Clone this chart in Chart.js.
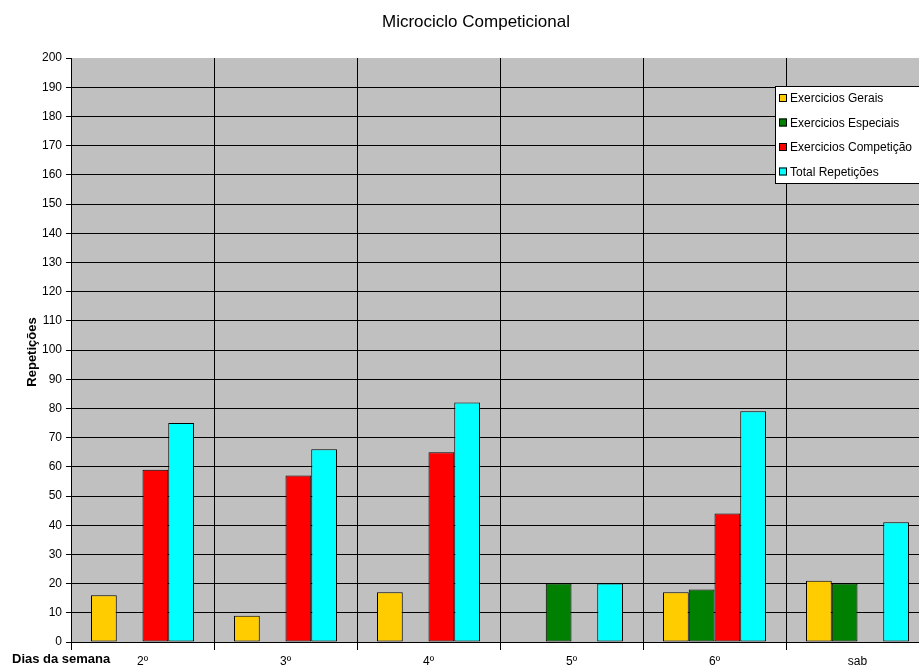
<!DOCTYPE html>
<html>
<head>
<meta charset="utf-8">
<script src="https://cdn.jsdelivr.net/npm/chart.js@4/dist/chart.umd.min.js"></script>
<style>
  html, body { margin: 0; padding: 0; background: #fff; overflow: hidden; }
  #wrap { width: 940px; height: 672px; }
</style>
</head>
<body>
<div id="wrap"><canvas id="myChart"></canvas></div>
<script>
const dias = ['2º', '3º', '4º', '5º', '6º', 'sab'];
const gerais = [16, 9, 17, 0, 17, 21];
const especiais = [0, 0, 0, 20, 18, 20];
const competicao = [59, 57, 65, 0, 44, 0];
const totalRep = [75, 66, 82, 20, 79, 41];
const yTicks = [0, 10, 20, 30, 40, 50, 60, 70, 80, 90, 100, 110, 120, 130, 140, 150, 160, 170, 180, 190, 200];

const font = 'Liberation Sans, Arial, sans-serif';

// titles, axis captions and the boxed legend
const extras = {
  id: 'extras',
  afterDraw(chart) {
    const c = chart.ctx;
    c.save();
    c.fillStyle = '#000';
    c.textAlign = 'center';
    c.textBaseline = 'middle';
    c.font = '17px ' + font;
    c.fillText('Microciclo Competicional', 476, 22);

    c.font = 'bold 13px ' + font;
    c.textAlign = 'left';
    c.fillText('Dias da semana', 12, 659);

    c.save();
    c.translate(32, 352);
    c.rotate(-Math.PI / 2);
    c.textAlign = 'center';
    c.fillText('Repetições', 0, 0);
    c.restore();

    // legend
    const lx = 775, ly = 86, lw = 170, lh = 97;
    c.fillStyle = '#fff';
    c.fillRect(lx, ly, lw, lh);
    c.strokeStyle = '#000';
    c.lineWidth = 1;
    c.strokeRect(lx + 0.5, ly + 0.5, lw, lh);
    c.font = '12px ' + font;
    c.textAlign = 'left';
    chart.data.datasets.forEach((ds, i) => {
      const y = ly + 12 + i * 24.5;
      c.fillStyle = ds.backgroundColor;
      c.fillRect(lx + 4, y - 4, 8, 8);
      c.strokeRect(lx + 4.5, y - 3.5, 7, 7);
      c.fillStyle = '#000';
      c.fillText(ds.label, lx + 15, y + 1);
    });
    c.restore();
  }
};

// grey plot area
const plotBg = {
  id: 'plotBg',
  beforeDraw(chart) {
    const a = chart.chartArea;
    chart.ctx.save();
    chart.ctx.fillStyle = '#c0c0c0';
    chart.ctx.fillRect(a.left, a.top, a.right - a.left, a.bottom - a.top);
    chart.ctx.restore();
  }
};

const barStyle = { borderColor: '#000', borderWidth: 1, borderSkipped: false };

new Chart(document.getElementById('myChart').getContext('2d'), {
  type: 'bar',
  data: {
    labels: dias,
    datasets: [
      { label: 'Exercicios Gerais', data: gerais, backgroundColor: '#ffcc00', ...barStyle },
      { label: 'Exercicios Especiais', data: especiais, backgroundColor: '#008000', ...barStyle },
      { label: 'Exercicios Competição', data: competicao, backgroundColor: '#ff0000', ...barStyle },
      { label: 'Total Repetições', data: totalRep, backgroundColor: '#00ffff', ...barStyle },
    ],
  },
  options: {
    responsive: true,
    maintainAspectRatio: false,
    animation: false,
    layout: { padding: { top: 58, right: 11, bottom: 0, left: 0 } },
    categoryPercentage: 0.72,
    barPercentage: 1,
    plugins: {
      legend: { display: false },
      title: { display: false },
      tooltip: { enabled: false },
    },
    scales: {
      x: {
        offset: true,
        grid: { offset: true, color: '#000', lineWidth: 1, tickLength: 8, drawTicks: true },
        border: { color: '#000', width: 1 },
        ticks: { color: '#000', font: { family: font, size: 12 }, padding: 4 },
        afterFit(scale) { scale.height = 30; },
      },
      y: {
        min: 0,
        max: 200,
        afterBuildTicks(scale) { scale.ticks = yTicks.map((v) => ({ value: v })); },
        grid: {
          color: (ctx) => (ctx.tick && ctx.tick.value === 200 ? 'rgba(0,0,0,0)' : '#000'),
          tickColor: '#000',
          lineWidth: 1,
          tickLength: 5,
        },
        border: { color: '#000', width: 1 },
        ticks: { color: '#000', font: { family: font, size: 12 }, padding: 4 },
        afterFit(scale) { scale.width = 71; },
      },
    },
  },
  plugins: [plotBg, extras],
});
</script>
</body>
</html>
